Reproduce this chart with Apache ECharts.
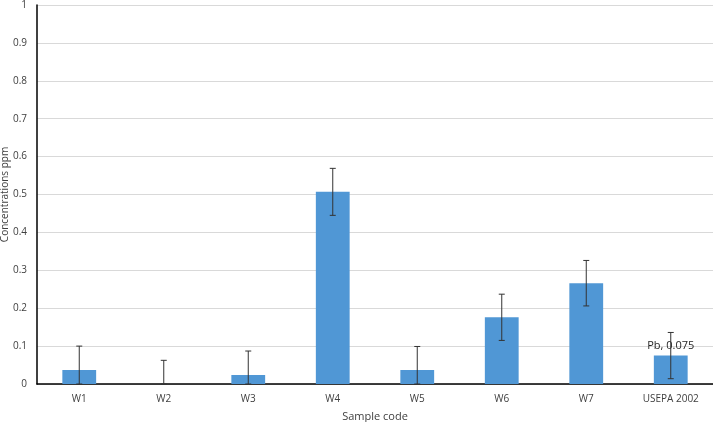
<!DOCTYPE html>
<html>
<head>
<meta charset="utf-8">
<script src="https://cdn.jsdelivr.net/npm/echarts@6/dist/echarts.min.js"></script>
<style>html,body{margin:0;padding:0;background:#fff}#c{width:713px;height:422px}</style>
</head>
<body>
<div id="c"></div>
<script>
const categories = ['W1', 'W2', 'W3', 'W4', 'W5', 'W6', 'W7', 'USEPA 2002'];
const values = [0.037, 0, 0.024, 0.507, 0.037, 0.176, 0.266, 0.075];
const errors = [0.063, 0.0625, 0.063, 0.062, 0.062, 0.061, 0.06, 0.061];
const annotationIndex = 7;
const annotationText = 'Pb, 0.075';
const yTicks = [0, 0.1, 0.2, 0.3, 0.4, 0.5, 0.6, 0.7, 0.8, 0.9, 1];

const font = 'Open Sans';
const chart = echarts.init(document.getElementById('c'), null, {renderer: 'canvas'});

const barData = values.map((v, i) => i === annotationIndex ? {
  value: v,
  label: {show: true, position: 'top', distance: 4, formatter: annotationText, color: '#262626', fontSize: 11, fontFamily: font}
} : v);
const errData = values.map((v, i) => [i, Math.max(0, v - errors[i]), v + errors[i]]);

chart.setOption({
  animation: false,
  grid: {left: 37, right: 0, top: 5, bottom: 38, containLabel: false, outerBoundsMode: 'none'},
  xAxis: {
    type: 'category',
    data: categories,
    name: 'Sample code',
    nameLocation: 'middle',
    nameGap: 27,
    nameMoveOverlap: false,
    nameTextStyle: {color: '#404040', fontSize: 11, fontFamily: font},
    axisLine: {lineStyle: {color: '#000', width: 1.5}},
    axisTick: {show: false},
    axisLabel: {color: '#404040', fontSize: 10, fontFamily: font, margin: 10}
  },
  yAxis: {
    type: 'value',
    min: yTicks[0],
    max: yTicks[yTicks.length - 1],
    interval: 0.1,
    name: 'Concentrations ppm',
    nameLocation: 'middle',
    nameGap: 27,
    nameMoveOverlap: false,
    nameTextStyle: {color: '#404040', fontSize: 10, fontFamily: font},
    axisLine: {show: true, lineStyle: {color: '#000', width: 1.5}},
    axisTick: {show: false},
    axisLabel: {color: '#404040', fontSize: 10, fontFamily: font, margin: 10,
      formatter: v => String(Math.round(v * 10) / 10)},
    splitLine: {lineStyle: {color: '#d9d9d9', width: 1}}
  },
  series: [
    {
      type: 'bar',
      data: barData,
      barWidth: '40%',
      itemStyle: {color: '#5097d5'}
    },
    {
      type: 'custom',
      data: errData,
      z: 10,
      renderItem: function (params, api) {
        const x = api.value(0);
        const lo = api.coord([x, api.value(1)]);
        const hi = api.coord([x, api.value(2)]);
        const cap = 3;
        const style = {stroke: '#333', lineWidth: 1};
        return {
          type: 'group',
          children: [
            {type: 'line', shape: {x1: hi[0], y1: hi[1], x2: lo[0], y2: lo[1]}, style},
            {type: 'line', shape: {x1: hi[0] - cap, y1: hi[1], x2: hi[0] + cap, y2: hi[1]}, style},
            {type: 'line', shape: {x1: lo[0] - cap, y1: lo[1], x2: lo[0] + cap, y2: lo[1]}, style}
          ]
        };
      }
    }
  ]
});
</script>
</body>
</html>
